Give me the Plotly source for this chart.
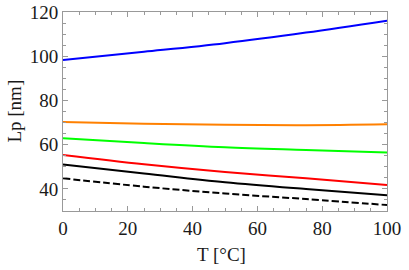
import plotly.graph_objects as go

T = [0, 25, 50, 75, 100]
blue = [98.3, 102.0, 105.9, 110.7, 116.1]
orange = [70.2, 69.5, 69.0, 68.8, 69.2]
green = [62.9, 60.7, 58.8, 57.6, 56.5]
red = [55.3, 51.1, 47.6, 44.8, 41.8]
black = [51.0, 47.0, 43.0, 39.9, 37.1]
black_dashed = [44.8, 41.0, 37.9, 35.4, 32.7]

series = [
    (blue, "#0000FF", "solid"),
    (orange, "#FF8000", "solid"),
    (green, "#00FF00", "solid"),
    (red, "#FF0000", "solid"),
    (black, "#000000", "solid"),
    (black_dashed, "#000000", "7px,3px"),
]

fig = go.Figure()
for ys, col, dash in series:
    fig.add_trace(go.Scatter(x=T, y=ys, mode="lines",
                             line=dict(color=col, width=2, dash=dash, shape="spline"),
                             showlegend=False))

font = dict(family="Liberation Serif", size=19, color="#1a1a1a")
axis_common = dict(
    showgrid=False, zeroline=False, showline=True, linecolor="#999999", linewidth=1,
    mirror="ticks", ticks="inside", ticklen=5, tickwidth=1, tickcolor="#999999",
    tickfont=font, automargin=False,
)
fig.update_xaxes(range=[0, 100], dtick=20, tick0=0,
                 minor=dict(dtick=5, ticks="inside", ticklen=3, tickcolor="#999999"),
                 **axis_common)
fig.update_yaxes(range=[30, 120], dtick=20, tick0=0,
                 minor=dict(dtick=5, ticks="inside", ticklen=3, tickcolor="#999999"),
                 **axis_common)
fig.add_annotation(text="T [°C]", xref="paper", yref="paper", x=0.49, y=-0.221,
                   xanchor="center", yanchor="middle", showarrow=False, font=font)
fig.add_annotation(text="Lp [nm]", xref="paper", yref="paper", x=-0.151, y=0.5,
                   xanchor="center", yanchor="middle", textangle=-90, showarrow=False, font=font)
fig.update_layout(width=409, height=270, margin=dict(l=63, r=22, t=12, b=59),
                  font=font, plot_bgcolor="white", paper_bgcolor="white")
fig.write_html("out.html", config={"displayModeBar": False},
               post_script="document.body.style.margin='0';")
